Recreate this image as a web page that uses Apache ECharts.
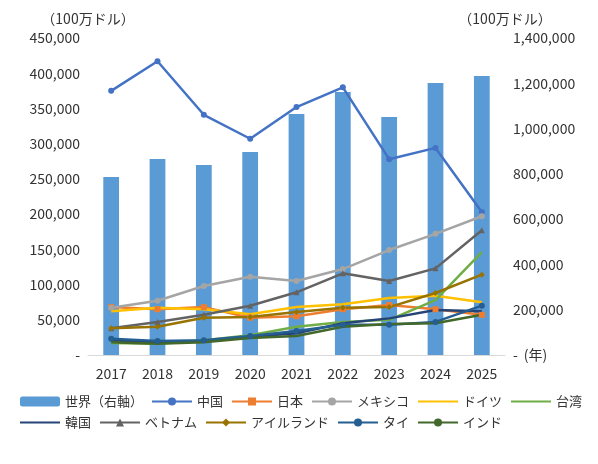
<!DOCTYPE html><html><head><meta charset="utf-8"><script src="https://cdn.jsdelivr.net/npm/echarts@6/dist/echarts.min.js"></script></head><body style="margin:0"><div id="c" style="width:598px;height:464px"></div><script>
const years=['2017','2018','2019','2020','2021','2022','2023','2024','2025'];
const world=[786000,866000,839000,896000,1064000,1161000,1051000,1201000,1232000];
const china=[375000,417000,341000,307000,352000,380000,278000,294000,203000];
const japan=[68000,65000,68000,53000,55000,65000,71000,65000,57000];
const mexico=[67000,77000,98000,111000,105000,122000,149000,172000,197000];
const germany=[62000,67000,65000,58000,68000,72000,81000,84000,75000];
const taiwan=[17000,16000,21000,28000,40000,47000,50000,78000,146000];
const korea=[21000,18000,20000,26000,31000,45000,52000,64000,62000];
const vietnam=[38000,47000,57000,70000,89000,116000,105000,123000,177000];
const ireland=[38000,40000,53000,54000,61000,67000,68000,88000,114000];
const thai=[23000,20000,21000,27000,34000,43000,43000,47000,70000];
const india=[18000,16000,18000,24000,27000,40000,44000,45000,57000];
const F='"Noto Sans CJK JP","Noto Sans",sans-serif';
function L(name,data,color,symbol){return {name,type:'line',data,symbol:symbol||'none',symbolSize:6,itemStyle:{color},lineStyle:{color,width:2.5}};}
const fmt=v=>v===0?'-':v.toLocaleString('en-US');
echarts.init(document.getElementById('c')).setOption({
textStyle:{fontFamily:F},
grid:{left:88,right:93,top:38,bottom:109},
legend:{left:14,top:390,width:590,itemGap:8,itemWidth:40,itemHeight:10,textStyle:{fontSize:13,color:'#333',width:92},
data:['世界（右軸）','中国','日本','メキシコ','ドイツ','台湾','韓国','ベトナム','アイルランド','タイ','インド']},
xAxis:{type:'category',data:years,name:'(年)',nameGap:4,nameTextStyle:{fontSize:14,color:'#333',padding:[40,0,0,0]},axisTick:{show:false},axisLine:{lineStyle:{color:'#d9d9d9'}},axisLabel:{fontSize:14,color:'#333',margin:12}},
yAxis:[{type:'value',min:0,max:450000,interval:50000,name:'（100万ドル）',nameGap:12,nameTextStyle:{fontSize:14,color:'#333'},axisLabel:{fontSize:14,color:'#333',formatter:fmt},splitLine:{show:false}},
{type:'value',min:0,max:1400000,interval:200000,name:'（100万ドル）',nameGap:12,nameTextStyle:{fontSize:14,color:'#333'},axisLabel:{fontSize:14,color:'#333',formatter:fmt},splitLine:{show:false}}],
series:[{name:'世界（右軸）',type:'bar',yAxisIndex:1,data:world,barWidth:'34%',itemStyle:{color:'#5B9BD5'}},
L('中国',china,'#4472C4','circle'),L('日本',japan,'#ED7D31','rect'),L('メキシコ',mexico,'#A5A5A5','circle'),
L('ドイツ',germany,'#FFC000','path://M0,0L10,10M10,0L0,10M5,0L5,10'),L('台湾',taiwan,'#70AD47','path://M5,0L5,10M0,5L10,5'),
L('韓国',korea,'#264478','path://M0,0L10,10M10,0L0,10M5,0L5,10'),L('ベトナム',vietnam,'#636363','triangle'),
L('アイルランド',ireland,'#997300','diamond'),L('タイ',thai,'#255E91','circle'),L('インド',india,'#43682B')]
});
</script></body></html>
